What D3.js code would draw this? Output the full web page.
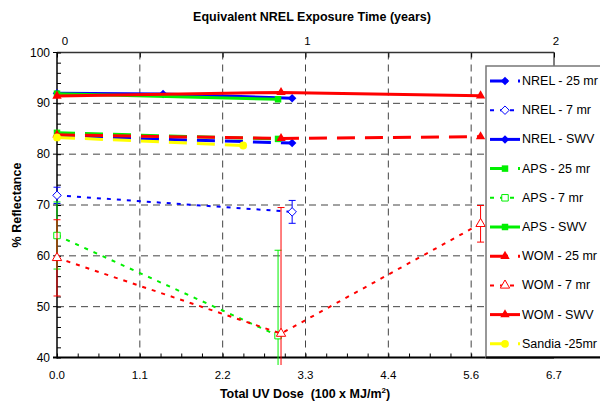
<!DOCTYPE html>
<html>
<head>
<meta charset="utf-8">
<script src="https://cdn.jsdelivr.net/npm/d3@7"></script>
<style>
  body { margin: 0; background: #fff; }
  svg { display: block; font-family: "Liberation Sans", Arial, sans-serif; }
</style>
</head>
<body>
<div id="grafico-container"></div>
<script>
// Eixos
const doseTickLabels = ["0.0", "1.1", "2.2", "3.3", "4.4", "5.6", "6.7"];
const yearTickLabels = ["0", "1", "2"];
const reflTicks = [40, 50, 60, 70, 80, 90, 100];

// Séries [dose, % reflectance]
const nrel25 = [[0, 83.5], [3.17, 82.2]];
const nrel7 = [[0, 71.9], [3.17, 68.65]];
const nrel7Err = [1.6, 2.25];
const nrelSwv = [[0, 92.0], [1.43, 91.85], [3.17, 91.0]];
const aps25 = [[0, 84.2], [2.98, 83.0]];
const aps7 = [[0, 64.0], [2.98, 44.3]];
const aps7Err = [6.6, 16.8];
const apsSwv = [[0, 91.9], [2.98, 90.8]];
const wom25 = [[0, 83.8], [3.02, 83.1], [5.71, 83.45]];
const wom7 = [[0, 59.6], [3.02, 44.7], [5.71, 66.3]];
const wom7Err = [7.5, 24.8, 3.6];
const womSwv = [[0, 91.45], [3.02, 92.15], [5.71, 91.5]];
const sandia25 = [[0, 83.3], [2.51, 81.7]];

const seriesNames = ["NREL - 25 mr", "NREL - 7 mr", "NREL - SWV", "APS - 25 mr", "APS - 7 mr",
  "APS - SWV", "WOM - 25 mr", "WOM - 7 mr", "WOM - SWV", "Sandia -25mr"];

const blue = "#0000ff", green = "#00f000", red = "#ff0000", yellow = "#ffff00";
const dashed = "18,10", dotted = "4,6";

// losango = quadrado girado 45 graus
const diamond = { draw(ctx, size) { const r = Math.sqrt(size / 2); ctx.moveTo(0, -r); ctx.lineTo(r, 0); ctx.lineTo(0, r); ctx.lineTo(-r, 0); ctx.closePath(); } };

const series = [
  { data: nrel25, color: blue, dash: dashed, width: 3, sym: diamond, size: 36, fill: true },
  { data: nrel7, err: nrel7Err, color: blue, dash: dotted, width: 2, sym: diamond, size: 36, fill: false },
  { data: nrelSwv, color: blue, dash: null, width: 3, sym: diamond, size: 36, fill: true },
  { data: aps25, color: green, dash: dashed, width: 3, sym: d3.symbolSquare, size: 42, fill: true },
  { data: aps7, err: aps7Err, color: green, dash: dotted, width: 2, sym: d3.symbolSquare, size: 42, fill: false },
  { data: apsSwv, color: green, dash: null, width: 3, sym: d3.symbolSquare, size: 42, fill: true },
  { data: wom25, color: red, dash: dashed, width: 3, sym: d3.symbolTriangle, size: 38, fill: true },
  { data: wom7, err: wom7Err, color: red, dash: dotted, width: 2, sym: d3.symbolTriangle, size: 38, fill: false },
  { data: womSwv, color: red, dash: null, width: 3, sym: d3.symbolTriangle, size: 38, fill: true },
  { data: sandia25, color: yellow, dash: dashed, width: 3, sym: d3.symbolCircle, size: 48, fill: true }
];

const width = 600;
const height = 407;
const pLeft = 57, pRight = 554, pTop = 52.5, pBottom = 357.5;

const svg = d3.select("#grafico-container").append("svg")
  .attr("width", width)
  .attr("height", height)
  .attr("viewBox", [0, 0, width, height]);

const x = d3.scaleLinear().domain([0, 6.7]).range([pLeft, pRight]);
const xYears = d3.scaleLinear().domain([0, 2]).range([pLeft, pRight]);
const y = d3.scaleLinear().domain([40, 100]).range([pBottom, pTop]);
const xMajor = doseTickLabels.map((d, i) => i * 6.7 / 6);

// Grade tracejada
const grid = svg.append("g")
  .attr("stroke", "#444")
  .attr("stroke-width", 1)
  .attr("stroke-dasharray", "7,5");
grid.selectAll("line.v")
  .data(xMajor.slice(1, 6))
  .join("line")
  .attr("class", "v")
  .attr("x1", d => x(d)).attr("x2", d => x(d))
  .attr("y1", pTop).attr("y2", pBottom);
grid.selectAll("line.h")
  .data(reflTicks.slice(1, 6))
  .join("line")
  .attr("class", "h")
  .attr("x1", pLeft).attr("x2", pRight)
  .attr("y1", d => y(d)).attr("y2", d => y(d));

// Borda direita
svg.append("line")
  .attr("x1", pRight).attr("x2", pRight)
  .attr("y1", pTop).attr("y2", pBottom)
  .attr("stroke", "#000").attr("stroke-width", 1);

// Eixo inferior
const xAxis = svg.append("g").attr("transform", `translate(0,${pBottom})`);
xAxis.call(d3.axisBottom(x)
    .tickValues(d3.range(0, 25).map(i => i * 6.7 / 24))
    .tickSize(-4)
    .tickFormat(""))
  .call(g => g.select(".domain").remove());
xAxis.selectAll(".tick line").attr("stroke", "#000");
xAxis.append("line")
  .attr("x1", pLeft - 4).attr("x2", pRight)
  .attr("stroke", "#000").attr("stroke-width", 2);
xAxis.selectAll("text.lbl")
  .data(xMajor)
  .join("text")
  .attr("class", "lbl")
  .attr("x", d => x(d))
  .attr("y", 21)
  .attr("text-anchor", "middle")
  .attr("font-size", 11.5)
  .attr("fill", "#000")
  .text((d, i) => doseTickLabels[i]);

// Eixo superior (anos)
const topAxis = svg.append("g").attr("transform", `translate(0,${pTop})`);
topAxis.call(d3.axisTop(xYears)
    .tickValues(d3.range(0, 7).map(i => i / 3))
    .tickSize(-5)
    .tickFormat(""))
  .call(g => g.select(".domain").remove());
topAxis.selectAll(".tick line").attr("stroke", "#000");
topAxis.append("line")
  .attr("x1", pLeft).attr("x2", pRight)
  .attr("stroke", "#333").attr("stroke-width", 1.5);
topAxis.selectAll("text.lbl")
  .data(yearTickLabels)
  .join("text")
  .attr("class", "lbl")
  .attr("x", d => xYears(+d) + (d === "0" ? 8 : 2))
  .attr("y", -8)
  .attr("text-anchor", "middle")
  .attr("font-size", 11.5)
  .attr("fill", "#000")
  .text(d => d);

// Eixo esquerdo
const yAxis = svg.append("g").attr("transform", `translate(${pLeft},0)`);
yAxis.call(d3.axisRight(y)
    .tickValues(d3.range(40, 101, 2))
    .tickSize(4)
    .tickFormat(""))
  .call(g => g.select(".domain").remove());
yAxis.selectAll(".tick line").attr("stroke", "#000");
yAxis.selectAll("line.maj")
  .data(reflTicks)
  .join("line")
  .attr("class", "maj")
  .attr("x1", -4).attr("x2", 0)
  .attr("y1", d => y(d)).attr("y2", d => y(d))
  .attr("stroke", "#000");
yAxis.append("line")
  .attr("y1", pTop).attr("y2", pBottom + 1)
  .attr("stroke", "#000").attr("stroke-width", 1.5);
yAxis.selectAll("text.lbl")
  .data(reflTicks)
  .join("text")
  .attr("class", "lbl")
  .attr("x", -7)
  .attr("y", d => y(d) + 4)
  .attr("text-anchor", "end")
  .attr("font-size", 12)
  .attr("fill", "#000")
  .text(d => d);

// Títulos
svg.append("text")
  .attr("x", 312).attr("y", 21)
  .attr("text-anchor", "middle")
  .attr("font-size", 12.5).attr("font-weight", "bold")
  .text("Equivalent NREL Exposure Time (years)");
svg.append("text")
  .attr("x", 305).attr("y", 398)
  .attr("text-anchor", "middle")
  .attr("font-size", 12.5).attr("font-weight", "bold")
  .html('Total UV Dose&#160;&#160;(100 x MJ/m<tspan dy="-5" font-size="8">2</tspan><tspan dy="5">)</tspan>');
svg.append("text")
  .attr("transform", "translate(21,205) rotate(-90)")
  .attr("text-anchor", "middle")
  .attr("font-size", 12.5).attr("font-weight", "bold")
  .text("% Reflectance");

// Barras de erro (cortadas um pouco abaixo do eixo)
svg.append("clipPath").attr("id", "clip")
  .append("rect").attr("x", 0).attr("y", pTop).attr("width", width).attr("height", 365 - pTop);

const line = d3.line().x(d => x(d[0])).y(d => y(d[1]));
const plot = svg.append("g");

series.forEach(s => {
  const g = plot.append("g");
  if (s.err) {
    const eb = g.append("g").attr("clip-path", "url(#clip)")
      .attr("stroke", s.color).attr("stroke-width", 1);
    s.data.forEach((d, i) => {
      const e = s.err[i];
      const cx = x(d[0]);
      eb.append("line").attr("x1", cx).attr("x2", cx)
        .attr("y1", y(d[1] + e)).attr("y2", y(d[1] - e));
      [d[1] + e, d[1] - e].forEach(v => {
        eb.append("line").attr("x1", cx - 3.5).attr("x2", cx + 3.5)
          .attr("y1", y(v)).attr("y2", y(v));
      });
    });
  }
  g.append("path")
    .datum(s.data)
    .attr("d", line)
    .attr("fill", "none")
    .attr("stroke", s.color)
    .attr("stroke-width", s.width)
    .attr("stroke-dasharray", s.dash);
  g.selectAll("path.m")
    .data(s.data)
    .join("path")
    .attr("class", "m")
    .attr("transform", d => `translate(${x(d[0])},${y(d[1])})`)
    .attr("d", d3.symbol(s.sym, s.size))
    .attr("fill", s.fill ? s.color : "#fff")
    .attr("stroke", s.color)
    .attr("stroke-width", s.fill ? 0 : 1);
});

// Legenda
const lg = svg.append("g");
lg.append("rect")
  .attr("x", 486).attr("y", 66)
  .attr("width", 130).attr("height", 291)
  .attr("fill", "#fff")
  .attr("stroke", "#777").attr("stroke-width", 1.5);
lg.append("line")
  .attr("x1", 486).attr("x2", 600).attr("y1", 357.5).attr("y2", 357.5)
  .attr("stroke", "#000").attr("stroke-width", 2);

series.forEach((s, i) => {
  const ry = 81 + i * 29.2;
  lg.append("line")
    .attr("x1", 490).attr("x2", 520)
    .attr("y1", ry).attr("y2", ry)
    .attr("stroke", s.color)
    .attr("stroke-width", s.width)
    .attr("stroke-dasharray", s.dash);
  lg.append("path")
    .attr("transform", `translate(505,${ry})`)
    .attr("d", d3.symbol(s.sym, s.size))
    .attr("fill", s.fill ? s.color : "#fff")
    .attr("stroke", s.color)
    .attr("stroke-width", s.fill ? 0 : 1);
  lg.append("text")
    .attr("x", 522).attr("y", ry + 4)
    .attr("font-size", 12.5)
    .attr("fill", "#000")
    .text(seriesNames[i]);
});
</script>
</body>
</html>
